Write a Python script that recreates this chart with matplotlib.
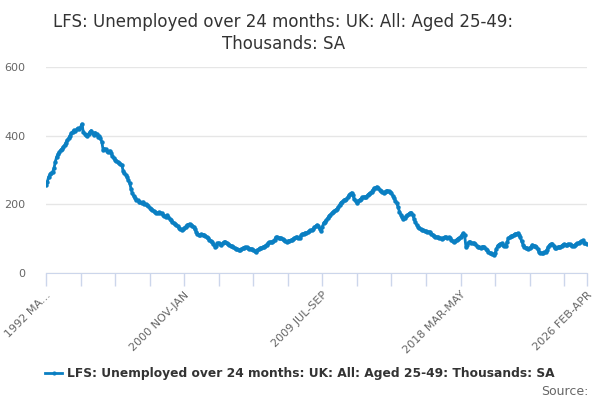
import matplotlib
matplotlib.use("Agg")
import matplotlib.pyplot as plt
from matplotlib.lines import Line2D

# monthly rolling-quarter values, 1992 MAR-MAY .. 2026 FEB-APR (thousands)
values = [
    256, 266, 280, 287, 290, 295, 305, 324, 338, 346, 352, 358,
    361, 368, 372, 380, 387, 392, 400, 407, 411, 416, 414, 418,
    421, 419, 425, 434, 412, 405, 401, 399, 405, 410, 415, 407,
    402, 409, 404, 397, 399, 392, 382, 358, 362, 360, 355, 352,
    356, 350, 340, 334, 330, 326, 324, 320, 317, 315, 298, 290,
    286, 280, 270, 261, 245, 232, 224, 218, 213, 212, 208, 206,
    205, 207, 202, 200, 198, 195, 190, 187, 184, 181, 178, 176,
    174, 177, 175, 174, 170, 166, 164, 168, 164, 158, 155, 150,
    146, 143, 140, 136, 132, 129, 125, 128, 131, 135, 139, 141,
    143, 140, 138, 135, 128, 120, 114, 111, 110, 113, 112, 111,
    108, 104, 101, 97, 94, 91, 85, 77, 80, 86, 88, 84,
    82, 86, 90, 91, 88, 85, 82, 80, 78, 76, 72, 71,
    69, 67, 67, 69, 72, 74, 75, 75, 73, 70, 71, 69,
    66, 64, 62, 66, 69, 72, 73, 75, 77, 79, 83, 86,
    89, 91, 89, 92, 97, 104, 104, 103, 102, 101, 99, 95,
    92, 91, 93, 94, 95, 96, 99, 102, 104, 104, 103, 103,
    110, 114, 115, 117, 116, 118, 121, 124, 125, 128, 133, 136,
    140, 136, 128, 123, 135, 146, 150, 154, 160, 166, 170, 174,
    177, 181, 184, 186, 192, 199, 205, 208, 212, 214, 215, 220,
    226, 230, 234, 226, 215, 209, 205, 210, 213, 216, 220, 222,
    221, 222, 227, 230, 233, 237, 242, 247, 249, 251, 247, 243,
    240, 237, 234, 236, 238, 240, 238, 236, 233, 225, 218, 210,
    203, 192, 179, 170, 162, 156, 160, 165, 168, 172, 175, 176,
    168, 158, 148, 140, 135, 130, 127, 125, 124, 122, 121, 120,
    120, 118, 115, 112, 108, 106, 105, 104, 103, 101, 100, 102,
    105, 104, 102, 104, 101, 96, 92, 90, 93, 97, 100, 102,
    106, 110, 116, 112, 77, 83, 89, 91, 88, 86, 86, 84,
    80, 77, 75, 74, 76, 77, 75, 70, 66, 62, 58, 57,
    54, 52, 58, 70, 80, 83, 85, 86, 83, 80, 79, 90,
    101, 104, 107, 109, 111, 114, 113, 116, 112, 104, 92, 83,
    77, 74, 72, 70, 72, 76, 82, 80, 78, 77, 70, 61,
    59, 57, 58, 60, 62, 68, 76, 82, 84, 85, 80, 72,
    73, 75, 76, 77, 79, 82, 84, 82, 83, 84, 84, 82,
    79, 78, 81, 84, 86, 88, 90, 92, 95, 88, 86, 84,
]
label_pos = [0, 104, 208, 312, 407]
tick_labels = ["1992 MA...", "2000 NOV-JAN", "2009 JUL-SEP", "2018 MAR-MAY", "2026 FEB-APR"]
y_ticks = [0, 200, 400, 600]

series_name = "LFS: Unemployed over 24 months: UK: All: Aged 25-49: Thousands: SA"
blue = "#0a7fc2"

fig = plt.figure(figsize=(6, 4), dpi=100)
ax = fig.add_axes([0.0767, 0.3175, 0.9013, 0.515])

x = list(range(len(values)))
ax.plot(x, values, color=blue, lw=2, marker="o", ms=3.2, mew=0, zorder=3)

ax.set_xlim(0, len(values) - 1)
ax.set_ylim(0, 600)
ax.set_yticks(y_ticks)
ax.set_yticklabels([str(v) for v in y_ticks], color="#666666", fontsize=8)
ax.tick_params(axis="y", length=0, pad=15)
ax.grid(axis="y", color="#e6e6e6", lw=1)
ax.set_axisbelow(True)

minor = list(range(0, len(values), 26)) + [len(values) - 1]
ax.set_xticks(minor, minor=True)
ax.set_xticks(label_pos)
ax.set_xticklabels(tick_labels, rotation=45, ha="right", rotation_mode="anchor",
                   color="#666666", fontsize=8)
ax.tick_params(axis="x", which="both", length=9, color="#ccd6eb", width=1, pad=3)

for s in ["top", "right", "left"]:
    ax.spines[s].set_visible(False)
ax.spines["bottom"].set_color("#ccd6eb")

fig.text(0.472, 0.967, "LFS: Unemployed over 24 months: UK: All: Aged 25-49:\nThousands: SA",
         ha="center", va="top", fontsize=12, color="#333333", linespacing=1.3)

handle = Line2D([], [], color=blue, lw=2, marker="o", ms=3, mew=0)
fig.legend([handle], [series_name], loc="center", bbox_to_anchor=(0.5, 0.066),
           frameon=False, handlelength=1.4, handletextpad=0.4,
           prop={"weight": "bold", "size": 8.8}, labelcolor="#333333")

fig.text(0.98, 0.022, "Source:", ha="right", va="center", fontsize=9, color="#666666")

fig.savefig("out.png", dpi=100)
